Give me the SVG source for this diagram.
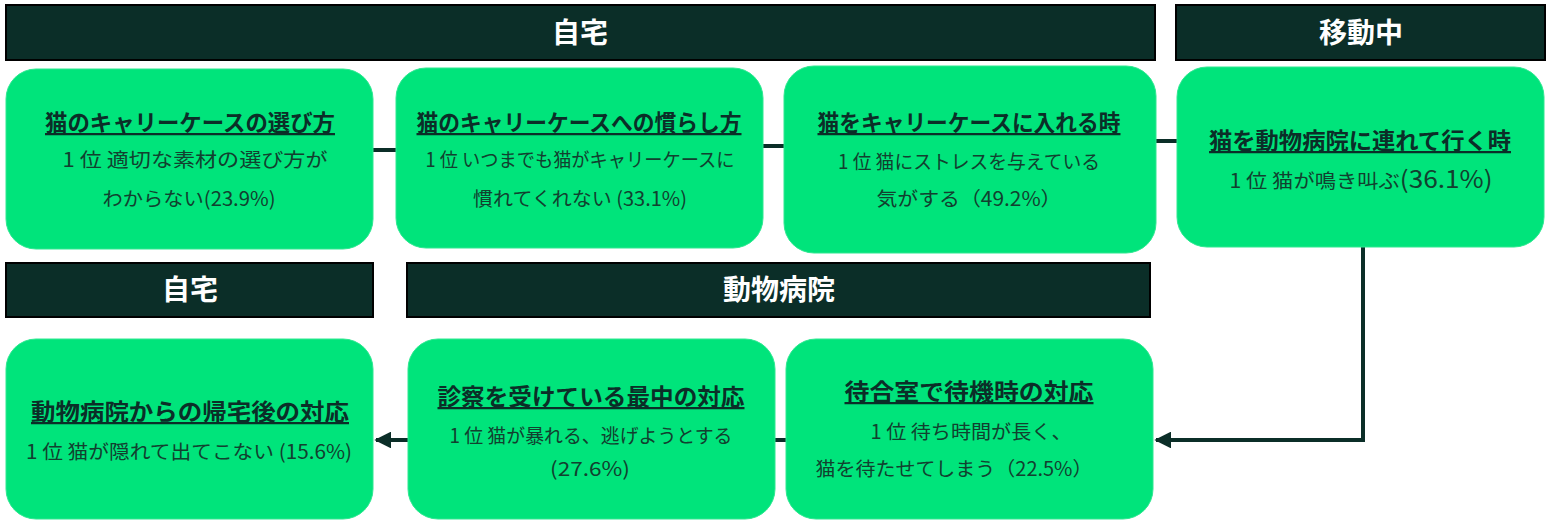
<svg xmlns="http://www.w3.org/2000/svg" width="1552" height="529" viewBox="0 0 1552 529">
<defs>
<style>
.hdr{fill:#0b2e28;stroke:#000;stroke-width:2}
.ht{fill:#fff;font-family:"Noto Sans CJK JP","Noto Sans",sans-serif;font-weight:700;font-size:28px;text-anchor:middle}
.box{fill:#00e47b;stroke:#2ee891;stroke-width:1}
.tt{fill:#0b2e28;font-family:"Noto Sans CJK JP","Noto Sans",sans-serif;font-weight:700;font-size:22.5px;text-anchor:middle;text-decoration:underline}
.st{fill:#12402f;font-family:"Noto Sans CJK JP","Liberation Sans",sans-serif;font-size:19.5px;text-anchor:middle}
.ln{fill:none;stroke:#0b2e28;stroke-width:4}
</style>
<marker id="ah" viewBox="0 0 10 10" refX="9" refY="5" markerWidth="4.2" markerHeight="4.2" orient="auto" markerUnits="strokeWidth">
<path d="M0,0 L10,5 L0,10 Z" fill="#0b2e28"/>
</marker>
</defs>
<rect width="1552" height="529" fill="#fff"/>
<g id="headers">
<g id="h-jitaku-top"><rect class="hdr" x="6" y="5" width="1149" height="55"/><text class="ht" x="580" y="43">自宅</text></g>
<g id="h-idouchu"><rect class="hdr" x="1176" y="5" width="369" height="55"/><text class="ht" x="1361" y="43">移動中</text></g>
<g id="h-jitaku-bottom"><rect class="hdr" x="6" y="263" width="367" height="54"/><text class="ht" x="190" y="300">自宅</text></g>
<g id="h-byouin"><rect class="hdr" x="407" y="263" width="743" height="54"/><text class="ht" x="779" y="300">動物病院</text></g>
</g>
<g id="connectors">
<line class="ln" x1="373" y1="150" x2="396" y2="150"/>
<line class="ln" x1="763" y1="146" x2="784" y2="146"/>
<line class="ln" x1="1156" y1="141" x2="1177" y2="141"/>
<polyline class="ln" points="1363,247 1363,440 1156,440" marker-end="url(#ah)"/>
<line class="ln" x1="786" y1="440" x2="775" y2="440"/>
<line class="ln" x1="408" y1="440" x2="376" y2="440" marker-end="url(#ah)"/>
</g>
<g id="n1"><rect class="box" x="6" y="69" width="367" height="180" rx="30"/>
<text class="tt" x="190" y="131" textLength="290" lengthAdjust="spacingAndGlyphs">猫のキャリーケースの選び方</text>
<text class="st" x="195" y="167" textLength="265" lengthAdjust="spacingAndGlyphs">1 位 適切な素材の選び方が</text>
<text class="st" x="189" y="206" textLength="173" lengthAdjust="spacingAndGlyphs">わからない(23.9%)</text></g>
<g id="n2"><rect class="box" x="396" y="68" width="367" height="180" rx="30"/>
<text class="tt" x="579" y="131" textLength="325" lengthAdjust="spacingAndGlyphs">猫のキャリーケースへの慣らし方</text>
<text class="st" x="580" y="167" textLength="309" lengthAdjust="spacingAndGlyphs">1 位 いつまでも猫がキャリーケースに</text>
<text class="st" x="580" y="206" textLength="214" lengthAdjust="spacingAndGlyphs">慣れてくれない (33.1%)</text></g>
<g id="n3"><rect class="box" x="784" y="66" width="372" height="187" rx="30"/>
<text class="tt" x="969" y="131" textLength="303" lengthAdjust="spacingAndGlyphs">猫をキャリーケースに入れる時</text>
<text class="st" x="969" y="169" textLength="262" lengthAdjust="spacingAndGlyphs">1 位 猫にストレスを与えている</text>
<text class="st" x="969" y="206" textLength="185" lengthAdjust="spacingAndGlyphs">気がする（49.2%）</text></g>
<g id="n4"><rect class="box" x="1177" y="67" width="367" height="180" rx="30"/>
<text class="tt" x="1360" y="149" textLength="302" lengthAdjust="spacingAndGlyphs">猫を動物病院に連れて行く時</text>
<text class="st" x="1361" y="188" textLength="263" lengthAdjust="spacingAndGlyphs">1 位 猫が鳴き叫ぶ<tspan font-size="24px">(36.1%)</tspan></text></g>
<g id="n5"><rect class="box" x="6" y="339" width="367" height="180" rx="30"/>
<text class="tt" x="190" y="420" textLength="318" lengthAdjust="spacingAndGlyphs">動物病院からの帰宅後の対応</text>
<text class="st" x="189" y="459" textLength="326" lengthAdjust="spacingAndGlyphs">1 位 猫が隠れて出てこない (15.6%)</text></g>
<g id="n6"><rect class="box" x="408" y="339" width="367" height="180" rx="30"/>
<text class="tt" x="591" y="405" textLength="307" lengthAdjust="spacingAndGlyphs">診察を受けている最中の対応</text>
<text class="st" x="591" y="443" textLength="283" lengthAdjust="spacingAndGlyphs">1 位 猫が暴れる、逃げようとする</text>
<text class="st" x="590" y="476" textLength="80" lengthAdjust="spacingAndGlyphs">(27.6%)</text></g>
<g id="n7"><rect class="box" x="786" y="339" width="367" height="180" rx="30"/>
<text class="tt" x="969" y="400" textLength="249" lengthAdjust="spacingAndGlyphs">待合室で待機時の対応</text>
<text class="st" x="971" y="439" textLength="201" lengthAdjust="spacingAndGlyphs">1 位 待ち時間が長く、</text>
<text class="st" x="954" y="476" textLength="277" lengthAdjust="spacingAndGlyphs">猫を待たせてしまう（22.5%）</text></g>
</svg>
